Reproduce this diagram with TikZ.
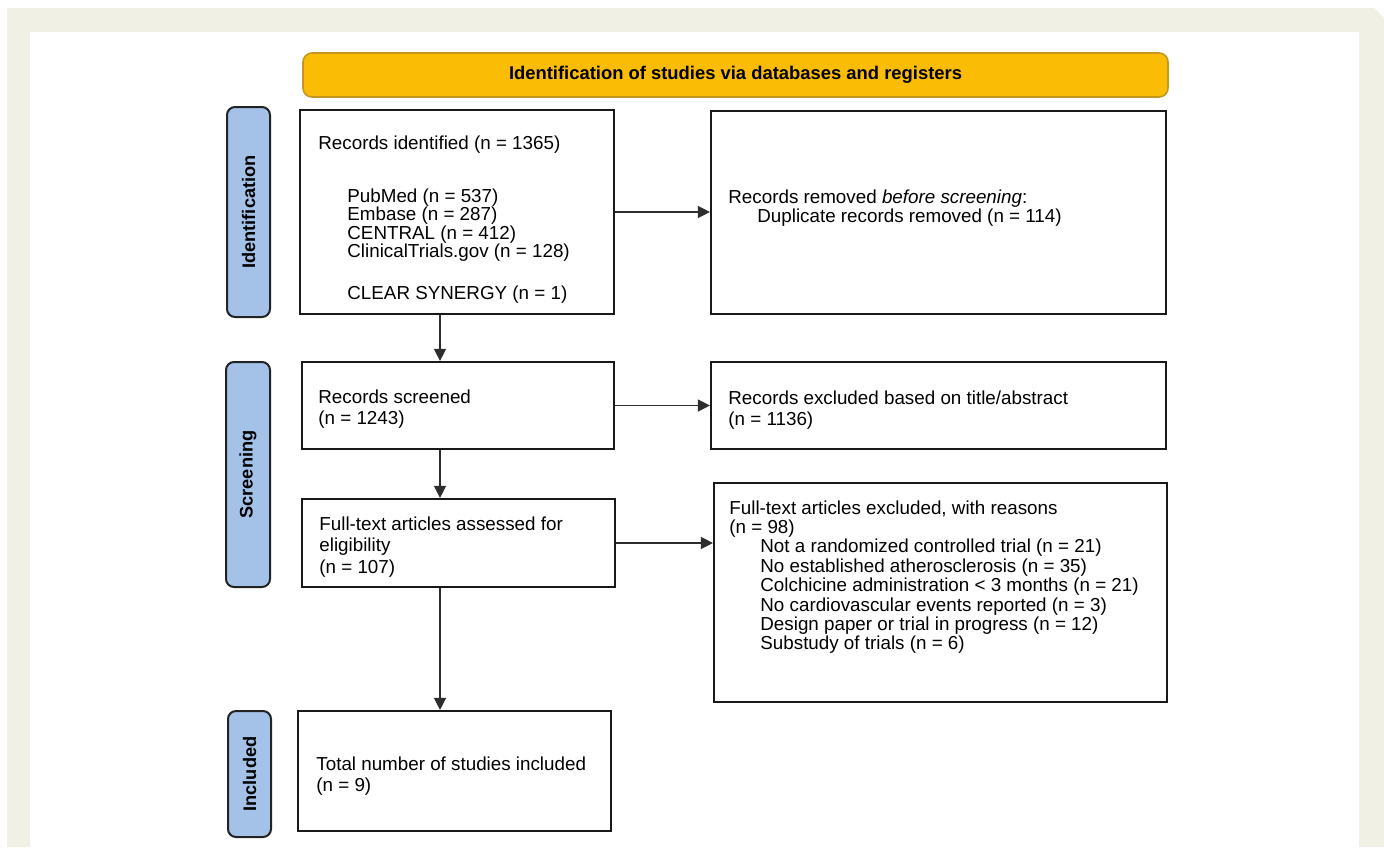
\documentclass[tikz,border=0pt]{standalone}
\usepackage{fontspec}
\setmainfont{Liberation Sans}
\usetikzlibrary{arrows.meta}
\definecolor{beige}{RGB}{240,240,228}
\definecolor{hdrfill}{RGB}{251,188,5}
\definecolor{hdrline}{RGB}{196,150,30}
\definecolor{labfill}{RGB}{164,194,232}
\definecolor{labline}{RGB}{35,35,35}
\definecolor{boxline}{RGB}{25,25,25}
\definecolor{arrline}{RGB}{45,45,45}
\begin{document}
\begin{tikzpicture}[x=0.5pt,y=-0.5pt,
  flowbox/.style={draw=boxline,line width=1.1pt,fill=white,inner sep=0pt},
  lab/.style={draw=labline,line width=1pt,fill=labfill,rounded corners=4pt,inner sep=0pt,
    font=\fontsize{9.1}{10}\selectfont\bfseries},
  hdr/.style={draw=hdrline,line width=0.8pt,fill=hdrfill,rounded corners=4.5pt,inner sep=0pt,
    font=\fontsize{9.2}{10}\selectfont\bfseries},
  txt/.style={inner sep=0pt,anchor=north west,align=left,text=black},
  wide/.style={txt,font=\fontsize{9.4}{10.75}\selectfont},
  tight/.style={txt,font=\fontsize{9.4}{9.3}\selectfont},
  mid/.style={txt,font=\fontsize{9.4}{9.5}\selectfont},
  loose/.style={txt,font=\fontsize{9.4}{9.7}\selectfont},
  arr/.style={draw=arrline,line width=0.65pt,-{Triangle[length=6pt,width=6pt]}}
]
\useasboundingbox (0,0) rectangle (1384,847);
% background
\fill[white] (0,0) rectangle (1384,847);
\fill[beige] (7,8) -- (1374,8) -- (1384,18) -- (1384,847) -- (7,847) -- cycle;
\fill[white] (30,32) rectangle (1359,847);

% header
\node[hdr,minimum width=432.5pt,minimum height=22pt] (hdr) at (735.5,75)
  {Identification of studies via databases and registers};

% side labels
\node[lab,rotate=90,minimum width=105pt,minimum height=21.5pt] (idlab) at (248.5,212) {Identification};
\node[lab,rotate=90,minimum width=112.5pt,minimum height=22pt] (scrlab) at (248,474.5) {Screening};
\node[lab,rotate=90,minimum width=63pt,minimum height=21.5pt] (inclab) at (249.5,774) {Included};

% boxes
\node[flowbox,minimum width=157pt,minimum height=102pt] (box1) at (457,212) {};
\node[flowbox,minimum width=227.5pt,minimum height=101.5pt] (removed) at (938.5,212.5) {};
\node[flowbox,minimum width=156pt,minimum height=43.5pt] (screened) at (458,405.5) {};
\node[flowbox,minimum width=227.5pt,minimum height=43.5pt] (excla) at (938.5,405.5) {};
\node[flowbox,minimum width=156.5pt,minimum height=44pt] (fulltext) at (458.5,543) {};
\node[flowbox,minimum width=226.5pt,minimum height=109.5pt] (exclb) at (940.5,592.5) {};
\node[flowbox,minimum width=156.5pt,minimum height=60pt] (included) at (454.5,771) {};

% texts
\node[tight] (t1) at (318,135) {Records identified (n = 1365)\\[17.2pt]
  \hspace*{14.5pt}PubMed (n = 537)\\
  \hspace*{14.5pt}Embase (n = 287)\\
  \hspace*{14.5pt}CENTRAL (n = 412)\\
  \hspace*{14.5pt}ClinicalTrials.gov (n = 128)\\[11.7pt]
  \hspace*{14.5pt}CLEAR SYNERGY (n = 1)};
\node[mid] (t2) at (728,189) {Records removed \textit{before screening}:\\
  \hspace*{14.5pt}Duplicate records removed (n = 114)};
\node[wide] (t3) at (318,389) {Records screened\\(n = 1243)};
\node[wide] (t4) at (728,390) {Records excluded based on title/abstract\\(n = 1136)};
\node[wide] (t5) at (319,516) {Full-text articles assessed for\\eligibility\\(n = 107)};
\node[loose] (t6) at (729,500) {Full-text articles excluded, with reasons\\(n = 98)\\
  \hspace*{15.5pt}Not a randomized controlled trial (n = 21)\\
  \hspace*{15.5pt}No established atherosclerosis (n = 35)\\
  \hspace*{15.5pt}Colchicine administration < 3 months (n = 21)\\
  \hspace*{15.5pt}No cardiovascular events reported (n = 3)\\
  \hspace*{15.5pt}Design paper or trial in progress (n = 12)\\
  \hspace*{15.5pt}Substudy of trials (n = 6)};
\node[wide] (t7) at (316,756) {Total number of studies included\\(n = 9)};

% connectors
\coordinate (ax) at (440,0);
\draw[arr] (box1.south -| ax) -- (screened.north -| ax);
\draw[arr] (screened.south -| ax) -- (fulltext.north -| ax);
\draw[arr] (fulltext.south -| ax) -- (included.north -| ax);
\draw[arr] (box1.east) -- (removed.west |- box1.east);
\draw[arr] (screened.east) -- (excla.west |- screened.east);
\draw[arr] (fulltext.east) -- (exclb.west |- fulltext.east);
\end{tikzpicture}
\end{document}
